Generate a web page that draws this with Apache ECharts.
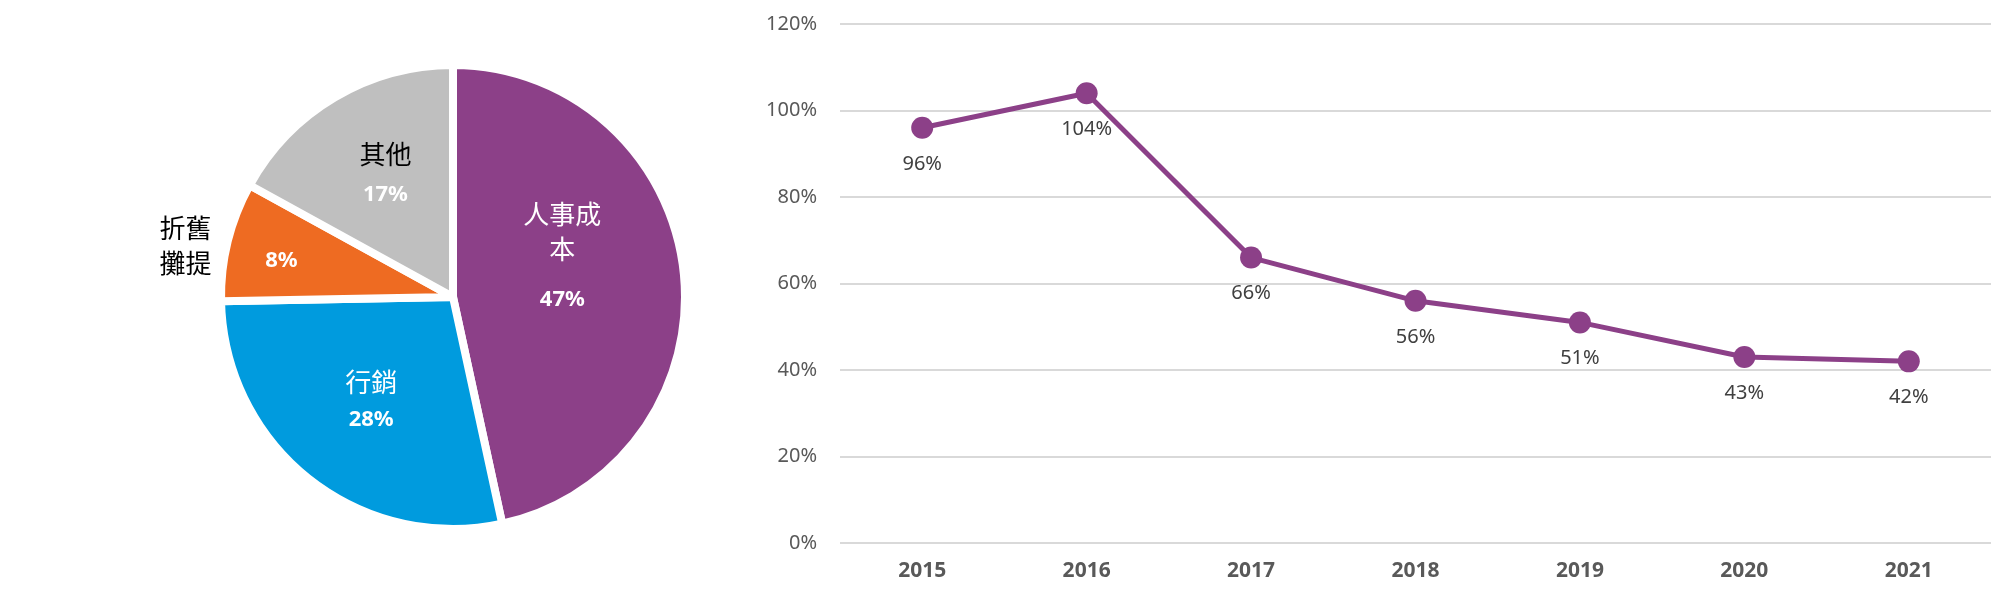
<!DOCTYPE html>
<html>
<head>
<meta charset="utf-8">
<title>費用結構與比率</title>
<script src="https://cdn.jsdelivr.net/npm/echarts@6/dist/echarts.min.js"></script>
<style>
  html, body { margin: 0; padding: 0; background: #fff; }
  #chart { width: 2014px; height: 599px; }
</style>
</head>
<body>
<div id="chart"></div>
<script>
// pie: cost breakdown (share, %), labels show the rounded value
const costNames = ["人事成本", "行銷", "折舊攤提", "其他"]
const costLabels = ["人事成\n本", "行銷", "折舊\n攤提", "其他"]
const costShares = [46.6, 28.1, 8.3, 17.0]

// line: ratio per year (%)
const years = ["2015", "2016", "2017", "2018", "2019", "2020", "2021"]
const ratios = [96, 104, 66, 56, 51, 43, 42]
const yTicks = [0, 20, 40, 60, 80, 100, 120]

const CJK = '"Noto Sans CJK TC", "Noto Sans CJK SC", sans-serif'
const LATIN = '"Noto Sans", "Liberation Sans", sans-serif'
const PURPLE = "#8C4088"

// look of each slice and where its label sits (offset from the default inside spot)
const sliceLook = {
  "人事成本": { color: PURPLE, nameColor: "#fff", offset: [-9, -20], pctRow: 66 },
  "行銷": { color: "#009BDE", nameColor: "#fff", offset: [-8, 12], pctRow: 41 },
  "折舊攤提": { color: "#EE6B22", nameColor: null, offset: [-56, -8], pctRow: 41, outside: [-152, -23] },
  "其他": { color: "#BFBFBF", nameColor: "#000", offset: [-7, -17], pctRow: 46 }
}

const pieCenter = [453, 297]
const pieRadius = 232

const pieData = costNames.map((name, i) => {
  const look = sliceLook[name]
  const pct = Math.round(costShares[i]) + "%"
  const text = look.nameColor ? `{n|${costLabels[i]}}\n{p|${pct}}` : `{p|${pct}}`
  return {
    name,
    value: costShares[i],
    itemStyle: { color: look.color },
    label: {
      formatter: text,
      offset: look.offset,
      rich: {
        n: { fontFamily: CJK, fontSize: 26, lineHeight: 35, color: look.nameColor || "#000" },
        p: { fontFamily: LATIN, fontSize: 22, fontWeight: "bold", lineHeight: look.pctRow, color: "#fff" }
      }
    }
  }
})

// names that sit outside the slice go on a see-through copy of the pie
const pieNameData = costNames.map((name, i) => {
  const look = sliceLook[name]
  return {
    name,
    value: costShares[i],
    itemStyle: { color: "rgba(0,0,0,0)" },
    label: look.outside ? {
      show: true,
      formatter: `{n|${costLabels[i]}}`,
      offset: look.outside,
      rich: { n: { fontFamily: CJK, fontSize: 26, lineHeight: 35, color: "#000" } }
    } : { show: false }
  }
})

const chart = echarts.init(document.getElementById("chart"), null, { renderer: "canvas" })

chart.setOption({
  animation: false,
  backgroundColor: "#fff",
  grid: { left: 840, right: 23, top: 24, bottom: 56 },
  xAxis: {
    type: "category",
    data: years,
    boundaryGap: true,
    axisLine: { show: false },
    axisTick: { show: false },
    axisLabel: { color: "#595959", fontFamily: LATIN, fontSize: 21, fontWeight: "bold", margin: 18 }
  },
  yAxis: {
    type: "value",
    min: yTicks[0],
    max: yTicks[yTicks.length - 1],
    interval: yTicks[1] - yTicks[0],
    axisLine: { show: false },
    axisTick: { show: false },
    axisLabel: { formatter: "{value}%", color: "#595959", fontFamily: LATIN, fontSize: 20, margin: 23 },
    splitLine: { lineStyle: { color: "#D9D9D9", width: 2 } }
  },
  series: [
    {
      type: "pie",
      center: pieCenter,
      radius: pieRadius,
      startAngle: 90,
      clockwise: true,
      emphasis: { disabled: true },
      itemStyle: { borderColor: "#fff", borderWidth: 8 },
      label: { show: true, position: "inside", align: "center" },
      labelLine: { show: false },
      data: pieData
    },
    {
      type: "pie",
      center: pieCenter,
      radius: pieRadius,
      startAngle: 90,
      clockwise: true,
      silent: true,
      emphasis: { disabled: true },
      itemStyle: { borderWidth: 0 },
      label: { position: "inside" },
      labelLine: { show: false },
      data: pieNameData
    },
    {
      type: "line",
      data: ratios,
      symbol: "circle",
      symbolSize: 22,
      lineStyle: { color: PURPLE, width: 5 },
      itemStyle: { color: PURPLE },
      emphasis: { disabled: true },
      label: {
        show: true,
        position: "bottom",
        distance: 15,
        formatter: p => p.value + "%",
        color: "#404040",
        fontFamily: LATIN,
        fontSize: 20
      }
    }
  ]
})
</script>
</body>
</html>
